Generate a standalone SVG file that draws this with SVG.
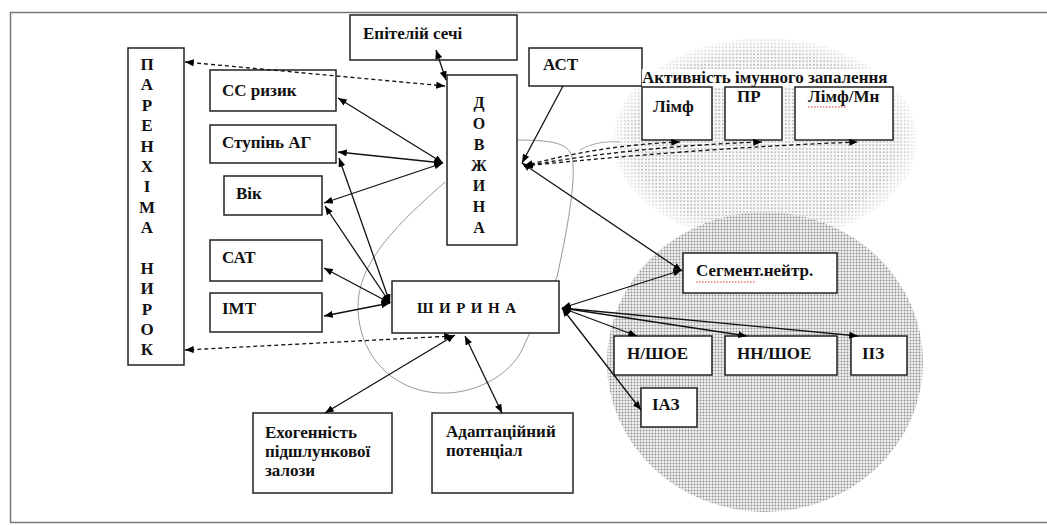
<svg xmlns="http://www.w3.org/2000/svg" width="1047" height="525" viewBox="0 0 1047 525">
<style>
.box{fill:#fff;stroke:#222;stroke-width:1.5}
.t{font-family:'Liberation Serif','Times New Roman','DejaVu Serif',serif;font-size:17px;font-weight:bold;fill:#111}
.v{font-family:'Liberation Serif','Times New Roman','DejaVu Serif',serif;font-size:17px;font-weight:bold;fill:#111;text-anchor:middle}
.c{fill:none;stroke:#111;stroke-width:1.3}
.d{fill:none;stroke:#111;stroke-width:1.3;stroke-dasharray:4 3}
.sq{fill:none;stroke:#d33;stroke-width:1;stroke-dasharray:1.5 1.5}
</style>
<defs>
<marker id="ah" viewBox="0 0 10 8" refX="10" refY="4" markerWidth="9" markerHeight="7" markerUnits="userSpaceOnUse" orient="auto-start-reverse"><path d="M0,0 L10,4 L0,8 z" fill="#000"/></marker>
<pattern id="dotsBig" width="3" height="3" patternUnits="userSpaceOnUse"><rect width="3" height="3" fill="#f2f2f2"/><circle cx="1.5" cy="1.5" r="0.95" fill="#8f8f8f"/></pattern>
<pattern id="dotsTop" width="3.5" height="3.5" patternUnits="userSpaceOnUse"><rect width="3.5" height="3.5" fill="#f8f8f8"/><circle cx="1.75" cy="1.75" r="0.9" fill="#aaa"/></pattern>
<radialGradient id="fade" cx="0.5" cy="0.5" r="0.5"><stop offset="0.85" stop-color="#fff"/><stop offset="1" stop-color="#444"/></radialGradient>
<mask id="fadeMask" maskUnits="userSpaceOnUse" x="600" y="30" width="330" height="220"><ellipse cx="765" cy="140" rx="152" ry="102" fill="url(#fade)"/></mask>
</defs>
<rect x="10.5" y="12.5" width="1045" height="510" fill="#fff" stroke="#777" stroke-width="1.5"/>
<g id="zones">
<ellipse cx="765" cy="140" rx="152" ry="102" fill="url(#dotsTop)" mask="url(#fadeMask)"/>
<ellipse cx="765" cy="362" rx="158" ry="150" fill="url(#dotsBig)"/>
<path d="M445,182 C400,222 356,262 358,310 C360,360 398,395 447,393 C480,392 515,372 525,343 L557,277 C565,240 575,190 573,163 C572,145 560,140 517,140" fill="none" stroke="#999" stroke-width="1"/>
<path d="M580,150 C592,143 605,141 620,142" fill="none" stroke="#aaa" stroke-width="1"/>
</g>
<g id="n-parenchyma"><rect class="box" x="128" y="48" width="56" height="317"/>
<text class="v" x="147"><tspan x="147" y="70">П</tspan><tspan x="147" y="90">А</tspan><tspan x="147" y="111">Р</tspan><tspan x="147" y="131">Е</tspan><tspan x="147" y="152">Н</tspan><tspan x="147" y="172">Х</tspan><tspan x="147" y="192">І</tspan><tspan x="147" y="213">М</tspan><tspan x="147" y="233">А</tspan><tspan x="147" y="274">Н</tspan><tspan x="147" y="294">И</tspan><tspan x="147" y="315">Р</tspan><tspan x="147" y="335">О</tspan><tspan x="147" y="355">К</tspan></text></g>
<g id="n-ss"><rect class="box" x="210" y="70" width="126" height="41"/><text class="t" x="222" y="96">СС ризик</text></g>
<g id="n-ag"><rect class="box" x="210" y="125" width="126" height="38"/><text class="t" x="222" y="148">Ступінь АГ</text></g>
<g id="n-vik"><rect class="box" x="224" y="176" width="98" height="39"/><text class="t" x="236" y="199">Вік</text></g>
<g id="n-sat"><rect class="box" x="210" y="240" width="112" height="41"/><text class="t" x="222" y="263">САТ</text></g>
<g id="n-imt"><rect class="box" x="210" y="293" width="112" height="39"/><text class="t" x="222" y="314">ІМТ</text></g>
<g id="n-epit"><rect class="box" x="350" y="15" width="167" height="45"/><text class="t" x="363" y="39">Епітелій сечі</text></g>
<g id="n-dovzhyna"><rect class="box" x="447" y="75" width="70" height="170"/>
<text class="v" x="479" style="font-size:16px"><tspan x="479" y="108">Д</tspan><tspan x="479" y="129">О</tspan><tspan x="479" y="150">В</tspan><tspan x="479" y="171">Ж</tspan><tspan x="479" y="191">И</tspan><tspan x="479" y="212">Н</tspan><tspan x="479" y="233">А</tspan></text></g>
<g id="n-shyryna"><rect class="box" x="392" y="281" width="167" height="52"/><text class="t" x="417" y="313" style="font-size:15px;letter-spacing:5.5px">ШИРИНА</text></g>
<g id="n-ast"><rect class="box" x="529" y="48" width="113" height="38"/><text class="t" x="543" y="70">АСТ</text></g>
<g id="n-title"><rect x="642" y="69" width="252" height="18" fill="#fff"/><text class="t" x="642" y="83">Активність імунного запалення</text></g>
<g id="n-limf"><rect class="box" x="642" y="87" width="70" height="53"/><text class="t" x="653" y="112">Лімф</text></g>
<g id="n-pr"><rect class="box" x="725" y="87" width="57" height="53"/><text class="t" x="737" y="102">ПР</text></g>
<g id="n-limfmn"><rect class="box" x="795" y="87" width="98" height="53"/><text class="t" x="808" y="102">Лімф/Мн</text><path class="sq" d="M808,107 L847,107"/></g>
<g id="n-segm"><rect class="box" x="683" y="253" width="154" height="40"/><text class="t" x="696" y="276">Сегмент.нейтр.</text><path class="sq" d="M696,282 L756,282"/></g>
<g id="n-nshoe"><rect class="box" x="614" y="336" width="98" height="39"/><text class="t" x="627" y="359">Н/ШОЕ</text></g>
<g id="n-nnshoe"><rect class="box" x="725" y="336" width="112" height="39"/><text class="t" x="737" y="359">НН/ШОЕ</text></g>
<g id="n-iiz"><rect class="box" x="851" y="336" width="56" height="39"/><text class="t" x="862" y="359">ІІЗ</text></g>
<g id="n-iaz"><rect class="box" x="641" y="388" width="56" height="39"/><text class="t" x="652" y="410">ІАЗ</text></g>
<g id="n-exo"><rect class="box" x="253" y="413" width="139" height="80"/><text class="t" x="265" y="438">Ехогенність</text><text class="t" x="265" y="457">підшлункової</text><text class="t" x="265" y="476">залози</text></g>
<g id="n-adapt"><rect class="box" x="432" y="413" width="141" height="80"/><text class="t" x="446" y="437">Адаптаційний</text><text class="t" x="446" y="456">потенціал</text></g>
<g id="connectors">
<line class="c" x1="443" y1="163" x2="338" y2="98" marker-start="url(#ah)" marker-end="url(#ah)"/>
<line class="c" x1="443" y1="163" x2="338" y2="152" marker-start="url(#ah)" marker-end="url(#ah)"/>
<line class="c" x1="443" y1="163" x2="324" y2="203" marker-start="url(#ah)" marker-end="url(#ah)"/>
<line class="c" x1="390" y1="303" x2="339" y2="158" marker-start="url(#ah)" marker-end="url(#ah)"/>
<line class="c" x1="390" y1="303" x2="325" y2="206" marker-start="url(#ah)" marker-end="url(#ah)"/>
<line class="c" x1="390" y1="303" x2="324" y2="268" marker-start="url(#ah)" marker-end="url(#ah)"/>
<line class="c" x1="390" y1="303" x2="324" y2="316" marker-start="url(#ah)" marker-end="url(#ah)"/>
<line class="c" x1="446" y1="80" x2="436" y2="50" marker-start="url(#ah)" marker-end="url(#ah)"/>
<line class="c" x1="563" y1="86" x2="522" y2="163" marker-end="url(#ah)"/>
<line class="c" x1="522" y1="163" x2="682" y2="271" marker-start="url(#ah)" marker-end="url(#ah)"/>
<line class="c" x1="562" y1="308" x2="682" y2="270" marker-start="url(#ah)" marker-end="url(#ah)"/>
<line class="c" x1="562" y1="308" x2="637" y2="336" marker-start="url(#ah)" marker-end="url(#ah)"/>
<line class="c" x1="562" y1="308" x2="747" y2="336" marker-start="url(#ah)" marker-end="url(#ah)"/>
<line class="c" x1="562" y1="308" x2="858" y2="336" marker-start="url(#ah)" marker-end="url(#ah)"/>
<line class="c" x1="562" y1="308" x2="641" y2="410" marker-start="url(#ah)" marker-end="url(#ah)"/>
<line class="c" x1="455" y1="335" x2="325" y2="413" marker-start="url(#ah)" marker-end="url(#ah)"/>
<line class="c" x1="465" y1="336" x2="502" y2="413" marker-start="url(#ah)" marker-end="url(#ah)"/>
<line class="d" x1="445" y1="86" x2="185" y2="62" marker-start="url(#ah)" marker-end="url(#ah)"/>
<line class="d" x1="453" y1="336" x2="185" y2="350" marker-start="url(#ah)" marker-end="url(#ah)"/>
<path class="d" d="M524,166 Q600,145 680,142" marker-start="url(#ah)" marker-end="url(#ah)"/>
<path class="d" d="M524,166 Q640,146 762,142" marker-start="url(#ah)" marker-end="url(#ah)"/>
<path class="d" d="M524,166 Q700,148 858,142" marker-start="url(#ah)" marker-end="url(#ah)"/>
</g>
</svg>
